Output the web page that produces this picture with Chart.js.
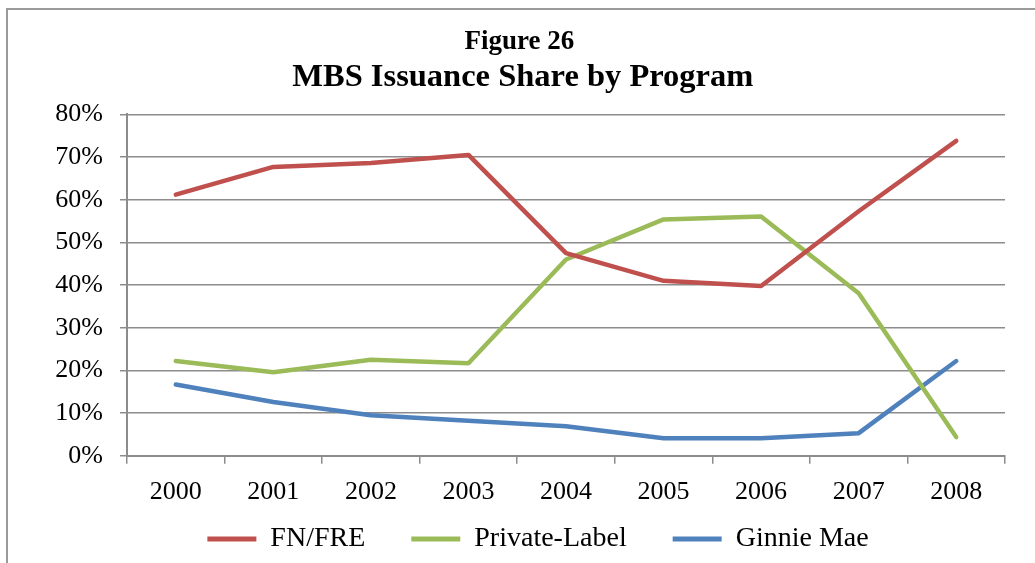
<!DOCTYPE html>
<html>
<head>
<meta charset="utf-8">
<script src="https://cdn.jsdelivr.net/npm/chart.js@4/dist/chart.umd.min.js"></script>
<style>
  html, body { margin: 0; padding: 0; background: #fff; }
  #wrap { width: 1035px; height: 563px; }
</style>
</head>
<body>
<div id="wrap"><canvas id="mbsChart" width="1035" height="563"></canvas></div>
<script>
// years on the x axis
var years = ['2000', '2001', '2002', '2003', '2004', '2005', '2006', '2007', '2008'];
// issuance share, percent
var fnFre = [61.2, 67.7, 68.6, 70.5, 47.5, 41.0, 39.8, 57.3, 73.8];
var privateLabel = [22.2, 19.6, 22.5, 21.7, 46.0, 55.4, 56.1, 38.1, 4.4];
var ginnieMae = [16.7, 12.6, 9.5, 8.2, 6.9, 4.1, 4.1, 5.3, 22.2];

var grey = '#8c8c8c';
var serif = '"Liberation Serif", "Times New Roman", serif';

// thin grey frame around the figure (top and left edges are visible)
var framePlugin = {
    id: 'frame',
    beforeDraw: function(chart) {
        var c = chart.ctx;
        c.save();
        c.strokeStyle = '#9a9a9a';
        c.lineWidth = 2;
        c.beginPath();
        c.moveTo(7, 563);
        c.lineTo(7, 9);
        c.lineTo(1035, 9);
        c.stroke();
        c.restore();
    }
};

var ctx = document.getElementById('mbsChart').getContext('2d');
var mbsChart = new Chart(ctx, {
    type: 'line',
    data: {
        labels: years,
        datasets: [
            { label: 'FN/FRE', data: fnFre, borderColor: '#C0504D', backgroundColor: '#C0504D' },
            { label: 'Private-Label', data: privateLabel, borderColor: '#9BBB59', backgroundColor: '#9BBB59' },
            { label: 'Ginnie Mae', data: ginnieMae, borderColor: '#4F81BD', backgroundColor: '#4F81BD' }
        ]
    },
    options: {
        responsive: false,
        animation: false,
        devicePixelRatio: 1,
        layout: { padding: { left: 0, right: 30, top: 0, bottom: 0 } },
        elements: {
            line: { borderWidth: 4.5, tension: 0, borderCapStyle: 'round', borderJoinStyle: 'round' },
            point: { radius: 0, hoverRadius: 0 }
        },
        scales: {
            x: {
                offset: true,
                grid: { offset: true, drawOnChartArea: false, tickLength: 8, color: grey, lineWidth: 1.5 },
                border: { color: grey, width: 2 },
                ticks: { color: '#000', padding: 13, font: { family: serif, size: 26 } }
            },
            y: {
                min: 0,
                max: 80,
                afterFit: function(scale) { scale.width = 127; },
                grid: { color: grey, lineWidth: 1.5, tickLength: 7 },
                border: { color: grey, width: 2 },
                ticks: {
                    stepSize: 10,
                    color: '#000',
                    padding: 17,
                    font: { family: serif, size: 26 },
                    callback: function(v) { return v + '%'; }
                }
            }
        },
        plugins: {
            title: {
                display: true,
                // leading space nudges the centred title right, as in the original
                text: '\u2003 Figure 26',
                color: '#000',
                font: { family: serif, size: 27, weight: 'bold' },
                padding: { top: 26, bottom: 0 }
            },
            subtitle: {
                display: true,
                text: '\u2003 MBS Issuance Share by Program',
                color: '#000',
                font: { family: serif, size: 32.5, weight: 'bold' },
                padding: { top: 0, bottom: 17 }
            },
            legend: {
                display: true,
                position: 'bottom',
                fullSize: false,
                maxHeight: 43,
                labels: {
                    color: '#000',
                    font: { family: serif, size: 28 },
                    boxWidth: 49,
                    boxHeight: 5,
                    padding: 4,
                    // extra room between entries, like the original
                    generateLabels: function(chart) {
                        var items = Chart.defaults.plugins.legend.labels.generateLabels(chart);
                        items.forEach(function(item, i) {
                            item.lineWidth = 0;
                            if (i < items.length - 1) item.text = item.text + '\u2003\u2002';
                            else item.text = item.text + '\u2003\u2003';
                        });
                        return items;
                    }
                }
            },
            tooltip: { enabled: false }
        }
    },
    plugins: [framePlugin]
});
</script>
</body>
</html>
